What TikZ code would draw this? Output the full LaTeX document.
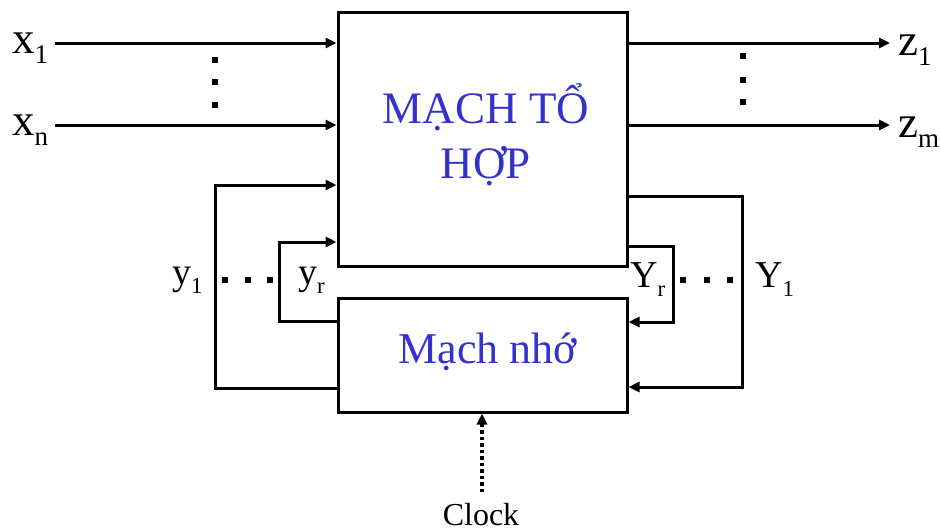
\documentclass[tikz,border=0pt]{standalone}
\usepackage{fontspec}
\setmainfont{Liberation Serif}
\usetikzlibrary{arrows.meta}
\definecolor{txtblue}{RGB}{51,51,204}
\newcommand{\lbl}[3]{\fontsize{#1}{#1}\selectfont #2\raisebox{-0.24em}{\fontsize{0.6em}{0.6em}\selectfont #3}}
\begin{document}
\begin{tikzpicture}[x=1pt,y=-1pt,
  box/.style={draw,line width=3pt,rectangle,inner sep=0pt},
  wire/.style={line width=3pt,-{Triangle[length=11pt,width=10pt]}},
  pdot/.style={fill=black,rectangle,inner sep=0pt,minimum size=6.5pt},
  btext/.style={text=txtblue,inner sep=0pt,anchor=base},
  lab/.style={inner sep=0pt,anchor=base west}]
\useasboundingbox (0,0) rectangle (941,531);
% boxes
\node[box,minimum width=289pt,minimum height=254pt] (comb) at (482.5,139) {};
\node[box,minimum width=289pt,minimum height=114pt] (mem) at (482.5,355) {};
\node[btext,font=\fontsize{45}{45}\selectfont] (t1) at (486,123) {MẠCH TỔ};
\node[btext,font=\fontsize{45}{45}\selectfont] (t2) at (486,178) {HỢP};
\node[btext,font=\fontsize{44}{44}\selectfont] (t3) at (488,363) {Mạch nhớ};
% inputs
\coordinate (x1s) at (55,43);
\coordinate (xns) at (55,125);
\draw[wire] (x1s) -- (x1s -| comb.west);
\draw[wire] (xns) -- (xns -| comb.west);
\node[lab] (x1) at (12,53) {\lbl{45}{x}{1}};
\node[lab] (xn) at (12,135) {\lbl{45}{x}{n}};
\node[pdot] (dx1) at (215,60) {};
\node[pdot] (dx2) at (215,82) {};
\node[pdot] (dx3) at (215,105) {};
% outputs
\coordinate (z1e) at (890,43);
\coordinate (zme) at (890,125);
\draw[wire] (z1e -| comb.east) -- (z1e);
\draw[wire] (zme -| comb.east) -- (zme);
\node[lab] (z1) at (898,55) {\lbl{45}{z}{1}};
\node[lab] (zm) at (898,137) {\lbl{45}{z}{m}};
\node[pdot] (dz1) at (743,56) {};
\node[pdot] (dz2) at (743,80) {};
\node[pdot] (dz3) at (743,102) {};
% left feedback loops
\coordinate (lo) at (215,388);
\coordinate (lot) at (215,185);
\coordinate (li) at (279,321);
\coordinate (lit) at (279,242);
\draw[wire] (lo -| mem.west) -- (lo) -- (lot) -- (lot -| comb.west);
\draw[wire] (li -| mem.west) -- (li) -- (lit) -- (lit -| comb.west);
\node[lab] (y1) at (172,284) {\lbl{38}{y}{1}};
\node[lab] (yr) at (298,284) {\lbl{38}{y}{r}};
\node[pdot] (dy1) at (225,280) {};
\node[pdot] (dy2) at (248,280) {};
\node[pdot] (dy3) at (270,280) {};
% right feedback loops
\coordinate (ro) at (742,196);
\coordinate (rob) at (742,387);
\coordinate (ri) at (673,246);
\coordinate (rib) at (673,322);
\draw[wire] (ro -| comb.east) -- (ro) -- (rob) -- (rob -| mem.east);
\draw[wire] (ri -| comb.east) -- (ri) -- (rib) -- (rib -| mem.east);
\node[lab] (Yr) at (630,287) {\lbl{38}{Y}{r}};
\node[lab] (Y1) at (755,287) {\lbl{38}{Y}{1}};
\node[pdot] (dY1) at (683,280) {};
\node[pdot] (dY2) at (707,280) {};
\node[pdot] (dY3) at (730,280) {};
% clock
\coordinate (cks) at (482,492);
\draw[line width=3.5pt,dash pattern=on 3.5pt off 3pt,-{Triangle[length=11pt,width=10pt]}] (cks) -- (cks |- mem.south);
\node[inner sep=0pt,anchor=base,font=\fontsize{32}{32}\selectfont] (clock) at (481,525) {Clock};
\end{tikzpicture}
\end{document}
